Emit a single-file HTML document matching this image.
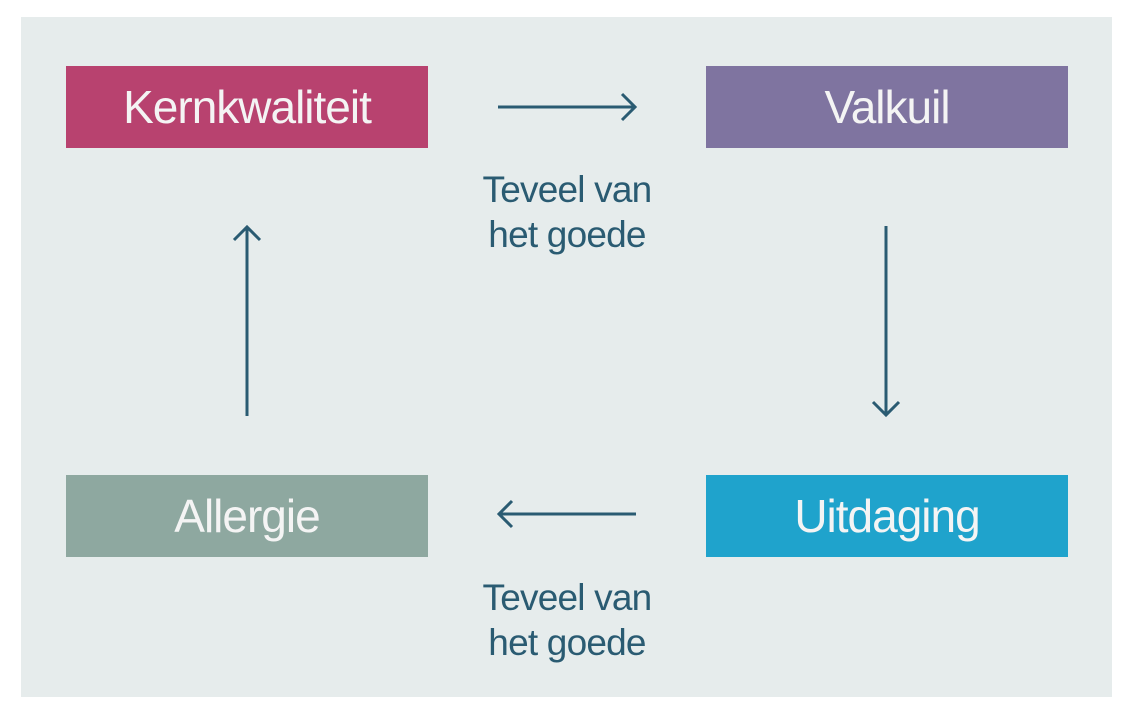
<!DOCTYPE html>
<html><head><meta charset="utf-8"><style>
html,body{margin:0;padding:0;width:1128px;height:720px;background:#fff;overflow:hidden;font-family:"Liberation Sans",sans-serif}
.panel{position:absolute;left:21px;top:17px;width:1091px;height:680px;background:#e6ecec}
.box{position:absolute;width:362px;height:82px;color:#f4f4f4;font-size:46px;display:flex;align-items:center;justify-content:center;letter-spacing:-1px}
.lbl{position:absolute;width:240px;text-align:center;color:#2a5b72;font-size:37px;line-height:45px;letter-spacing:-0.8px}
</style></head><body>
<div class="panel"></div>
<div class="box" style="left:66px;top:66px;background:#b8426f">Kernkwaliteit</div>
<div class="box" style="left:706px;top:66px;background:#7f74a0">Valkuil</div>
<div class="box" style="left:66px;top:475px;background:#8ea8a0">Allergie</div>
<div class="box" style="left:706px;top:475px;background:#1fa3cc">Uitdaging</div>
<div class="lbl" style="left:447px;top:167px">Teveel van<br>het goede</div>
<div class="lbl" style="left:447px;top:575px">Teveel van<br>het goede</div>
<svg width="1128" height="720" style="position:absolute;left:0;top:0" fill="none" stroke="#2a5b72" stroke-width="3">
<path d="M498 107H635M622 94L635 107L622 120"/>
<path d="M886 226V415M873 402L886 415L899 402"/>
<path d="M636 514H499M512 501L499 514L512 527"/>
<path d="M247 416V227M234 240L247 227L260 240"/>
</svg>
</body></html>
